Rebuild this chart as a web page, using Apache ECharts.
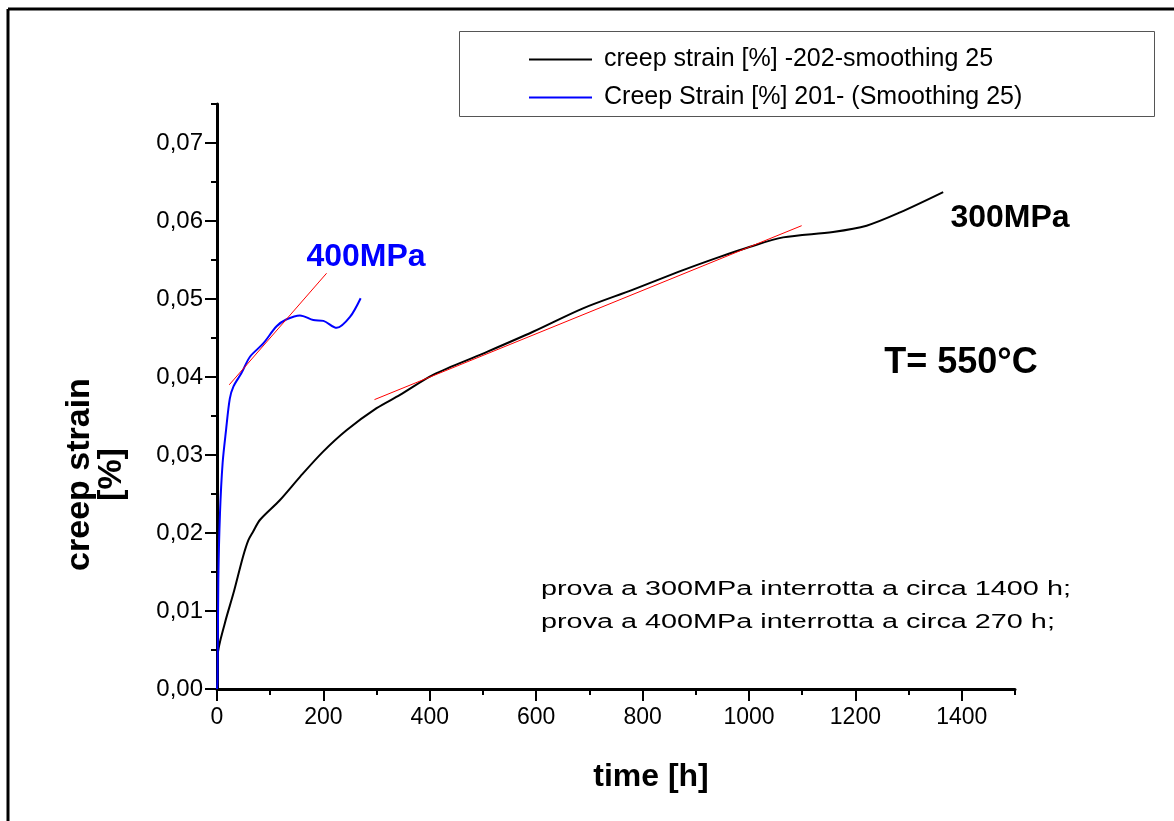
<!DOCTYPE html>
<html><head><meta charset="utf-8">
<script src="https://cdn.jsdelivr.net/npm/echarts@6/dist/echarts.min.js"></script>
<style>html,body{margin:0;padding:0;background:#fff}#c{width:1174px;height:821px}</style>
</head><body><div id="c"></div>
<script>
// ---- data ----
const name202 = 'creep strain [%] -202-smoothing 25';
const name201 = 'Creep Strain [%] 201- (Smoothing 25)';

const time202 = [0, 1, 15, 31, 49, 59, 68, 81, 118, 156, 199, 244, 300, 344, 407, 500, 594, 688, 782, 876, 945, 1002, 1064, 1158, 1221, 1284, 1365];
const strain202 = [0, 0.0042, 0.0085, 0.0123, 0.0170, 0.0191, 0.0202, 0.0217, 0.0242, 0.0272, 0.0304, 0.0332, 0.0360, 0.0377, 0.0403, 0.0430, 0.0458, 0.0488, 0.0512, 0.0537, 0.0554, 0.0567, 0.0579, 0.0586, 0.0594, 0.0611, 0.0637];

const time201 = [0, 1, 2.5, 5.6, 10.6, 17, 24, 31, 46, 62, 87, 112, 131, 156, 181, 200, 225, 250, 270];
const strain201 = [0, 0.0012, 0.0140, 0.0225, 0.0290, 0.0332, 0.0372, 0.0388, 0.0405, 0.0426, 0.0443, 0.0465, 0.0474, 0.0479, 0.0473, 0.0472, 0.0463, 0.0477, 0.0501];

const fit400Time = [23, 206];
const fit400Strain = [0.0390, 0.0533];
const fit300Time = [296, 1099];
const fit300Strain = [0.0371, 0.0594];

const xTickValues = [0, 200, 400, 600, 800, 1000, 1200, 1400];
const yTickValues = [0, 0.01, 0.02, 0.03, 0.04, 0.05, 0.06, 0.07];

const label400 = '400MPa';
const label300 = '300MPa';
const labelTemp = 'T= 550°C';
const note1 = 'prova a 300MPa interrotta a circa 1400 h;';
const note2 = 'prova a 400MPa interrotta a circa 270 h;';
const xTitle = 'time [h]';
const yTitle = 'creep strain\n[%]';

// ---- chart ----
const zip = (a, b) => a.map((v, i) => [v, b[i]]);
const FONT = 'Liberation Sans, Arial, sans-serif';
const chart = echarts.init(document.getElementById('c'), null, {renderer: 'canvas'});

const option = {
  backgroundColor: '#fff',
  animation: false,
  grid: {left: 217, right: 159, top: 104, bottom: 132},
  legend: {
    data: [name202, name201],
    orient: 'vertical',
    left: 524, top: 42,
    itemWidth: 63, itemHeight: 2, itemGap: 13,
    icon: 'rect',
    textStyle: {fontFamily: FONT, fontSize: 25, lineHeight: 25, color: '#000', padding: [0, 0, 0, 7]}
  },
  xAxis: [{
    type: 'value', min: 0, max: 1500, interval: 200,
    name: xTitle, nameLocation: 'middle', nameGap: 72,
    nameTextStyle: {fontFamily: FONT, fontSize: 32, fontWeight: 'bold', color: '#000', padding: [0, 0, 0, 70]},
    axisLine: {show: true, onZero: false, lineStyle: {color: '#000', width: 3}},
    axisTick: {show: true, length: 12, lineStyle: {color: '#000', width: 2}, customValues: xTickValues},
    axisLabel: {fontFamily: FONT, fontSize: 23, color: '#000', margin: 17, customValues: xTickValues,
      formatter: v => (xTickValues.indexOf(v) >= 0 ? String(v) : '')},
    splitLine: {show: false}
  }, {
    type: 'value', min: 0, max: 1500, interval: 100, position: 'bottom',
    axisLine: {show: false}, axisLabel: {show: false}, splitLine: {show: false},
    axisTick: {show: true, length: 6, lineStyle: {color: '#000', width: 2}}
  }],
  yAxis: [{
    type: 'value', min: 0, max: 0.075, interval: 0.01,
    name: yTitle, nameLocation: 'middle', nameGap: 89, nameRotate: 90,
    nameTextStyle: {fontFamily: FONT, fontSize: 34, fontWeight: 'bold', color: '#000', lineHeight: 32, padding: [0, 156, 0, 0]},
    axisLine: {show: true, onZero: false, lineStyle: {color: '#000', width: 3}},
    axisTick: {show: true, length: 12, lineStyle: {color: '#000', width: 2}, customValues: yTickValues},
    axisLabel: {fontFamily: FONT, fontSize: 24, color: '#000', margin: 14, customValues: yTickValues,
      formatter: v => v.toFixed(2).replace('.', ',')},
    splitLine: {show: false}
  }, {
    type: 'value', min: 0, max: 0.075, interval: 0.005, position: 'left',
    axisLine: {show: false}, axisLabel: {show: false}, splitLine: {show: false},
    axisTick: {show: true, length: 6, lineStyle: {color: '#000', width: 2}}
  }],
  series: [
    {name: name202, type: 'line', data: zip(time202, strain202), showSymbol: false, smooth: 0.3,
      lineStyle: {color: '#000', width: 2}, itemStyle: {color: '#000'}, z: 3},
    {name: name201, type: 'line', data: zip(time201, strain201), showSymbol: false, smooth: 0.3,
      lineStyle: {color: '#0000ff', width: 2}, itemStyle: {color: '#0000ff'}, z: 3},
    {name: 'fit400', type: 'line', data: zip(fit400Time, fit400Strain), showSymbol: false, silent: true,
      lineStyle: {color: '#ff0000', width: 1}, z: 4},
    {name: 'fit300', type: 'line', data: zip(fit300Time, fit300Strain), showSymbol: false, silent: true,
      lineStyle: {color: '#ff0000', width: 1}, z: 4}
  ],
  graphic: [
    {type: 'line', shape: {x1: 8, y1: 9, x2: 1174, y2: 9}, style: {stroke: '#000', lineWidth: 3}},
    {type: 'line', shape: {x1: 8, y1: 9, x2: 8, y2: 821}, style: {stroke: '#000', lineWidth: 3}},
    {type: 'rect', shape: {x: 459.5, y: 31.5, width: 695, height: 85}, style: {fill: 'none', stroke: '#555', lineWidth: 1}, z: -1},
    {type: 'text', x: 366, y: 257, style: {text: label400, font: 'bold 32px ' + FONT, fill: '#0000ff', align: 'center', verticalAlign: 'middle'}},
    {type: 'text', x: 1010, y: 218, style: {text: label300, font: 'bold 32px ' + FONT, fill: '#000', align: 'center', verticalAlign: 'middle'}},
    {type: 'text', x: 961, y: 363, style: {text: labelTemp, font: 'bold 36px ' + FONT, fill: '#000', align: 'center', verticalAlign: 'middle'}},
    {type: 'text', x: 541, y: 589, scaleX: 1.44, style: {text: note1, font: '20px ' + FONT, fill: '#000', align: 'left', verticalAlign: 'middle'}},
    {type: 'text', x: 541, y: 622, scaleX: 1.44, style: {text: note2, font: '20px ' + FONT, fill: '#000', align: 'left', verticalAlign: 'middle'}}
  ]
};
chart.setOption(option);
</script>
</body></html>
